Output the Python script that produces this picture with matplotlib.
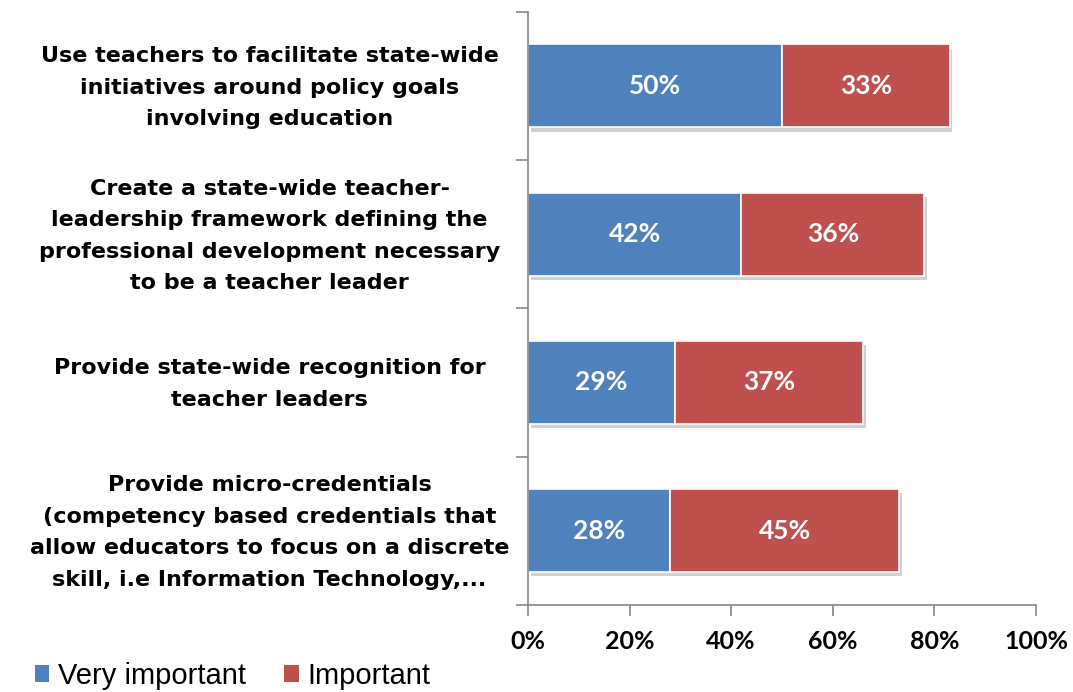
import matplotlib
matplotlib.use("Agg")
import matplotlib.pyplot as plt
import matplotlib.patheffects as pe
import matplotlib.transforms as mtransforms
from matplotlib.patches import Patch

categories = [
    "Use teachers to facilitate state-wide\ninitiatives around policy goals\ninvolving education",
    "Create a state-wide teacher-\nleadership framework defining the\nprofessional development necessary\nto be a teacher leader",
    "Provide state-wide recognition for\nteacher leaders",
    "Provide micro-credentials\n(competency based credentials that\nallow educators to focus on a discrete\nskill, i.e Information Technology,...",
]
very_important = [50, 42, 29, 28]
important = [33, 36, 37, 45]
series_names = ["Very important", "Important"]
colors = ["#4f81bd", "#c0504d"]

fig = plt.figure(figsize=(10.73, 6.92), dpi=100)
ax = fig.add_axes([0.492, 0.126, 0.4735, 0.857])

ypos = list(range(len(categories)))
shadow = [pe.SimplePatchShadow(offset=(2, -3), shadow_rgbFace="#000000", alpha=0.18), pe.Normal()]

b1 = ax.barh(ypos, very_important, height=0.56, color=colors[0], edgecolor="white",
             linewidth=1.2, path_effects=shadow)
b2 = ax.barh(ypos, important, left=very_important, height=0.56, color=colors[1],
             edgecolor="white", linewidth=1.2, path_effects=shadow)

for vals, lefts in [(very_important, [0] * 4), (important, very_important)]:
    for y, v, l in zip(ypos, vals, lefts):
        ax.text(l + v / 2, y, f"{v}%", ha="center", va="center", color="white",
                fontsize=19, fontfamily="Lato", fontweight="bold")

ax.set_xlim(0, 100)
ax.set_ylim(len(categories) - 0.5, -0.5)
ax.set_xticks(range(0, 101, 20))
ax.set_xticklabels([f"{t}%" for t in range(0, 101, 20)], fontsize=18,
                   fontfamily="Lato", fontweight="bold")
ax.set_yticks(ypos)
ax.set_yticklabels(categories, fontsize=16, fontfamily="DejaVu Sans", fontweight="bold",
                   ha="center", linespacing=1.72)
ax.tick_params(axis="y", length=0, pad=186)
# nudge the category labels up a little
nudge = mtransforms.ScaledTranslation(0, 6 / 100, fig.dpi_scale_trans)
for lab in ax.get_yticklabels():
    lab.set_transform(lab.get_transform() + nudge)
# minor ticks mark the boundaries between categories
ax.set_yticks([i - 0.5 for i in range(len(categories) + 1)], minor=True)
ax.tick_params(axis="y", which="minor", length=9, color="#868686", width=1.2)
ax.tick_params(axis="x", length=8, color="#868686", width=1.2, pad=10)

for s in ["top", "right"]:
    ax.spines[s].set_visible(False)
for s in ["left", "bottom"]:
    ax.spines[s].set_color("#868686")
    ax.spines[s].set_linewidth(1.2)

handles = [Patch(facecolor=c) for c in colors]
fig.legend(handles=handles, labels=series_names, loc="lower left",
           bbox_to_anchor=(0.008, -0.035), ncol=2, frameon=False,
           prop={"family": "Liberation Sans", "size": 21},
           handlelength=0.5, handleheight=0.5, handletextpad=0.3, columnspacing=1.3)

fig.savefig("out.png", dpi=100)
